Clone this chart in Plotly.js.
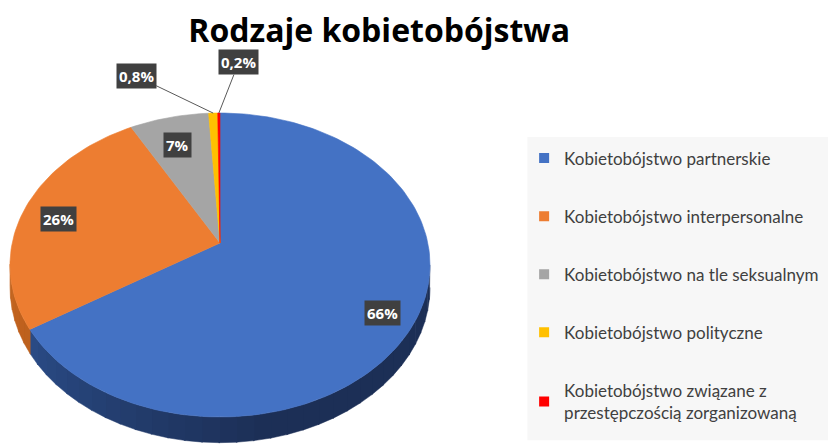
<!DOCTYPE html>
<html>
<head>
<meta charset="utf-8">
<script src="https://cdn.plot.ly/plotly-3.0.1.min.js"></script>
<style>html,body{margin:0;padding:0;background:#fff;}#chart{width:828px;height:446px;}</style>
</head>
<body>
<div id="chart"></div>
<script>
// ---- data ----
const titleText = 'Rodzaje kobietobójstwa';
const categories = [
  'Kobietobójstwo partnerskie',
  'Kobietobójstwo interpersonalne',
  'Kobietobójstwo na tle seksualnym',
  'Kobietobójstwo polityczne',
  'Kobietobójstwo związane z<br>przestępczością zorganizowaną'
];
const values = [66, 26, 7, 0.8, 0.2];
const colors = ['#4472C4', '#ED7D31', '#A5A5A5', '#FFC000', '#FF0000'];

// ---- 3D pie projection (style) ----
const X0 = 220, Y0 = 243, A = 207.8, B = 148.8, K = 0.1447, DEPTH = 22;
function proj(phiDeg, depth) {
  const p = phiDeg * Math.PI / 180;
  const u = Math.sin(p), v = Math.cos(p);
  const f = 1 / (1 + K * v);
  return [X0 + A * u * f, Y0 - B * v * f + depth * f];
}
function arcPts(a, b, depth) {
  const n = Math.max(2, Math.ceil(Math.abs(b - a) / 1.5));
  const xs = [], ys = [];
  for (let i = 0; i <= n; i++) {
    const p = proj(a + (b - a) * i / n, depth);
    xs.push(p[0]); ys.push(p[1]);
  }
  return [xs, ys];
}

const total = values.reduce((s, v) => s + v, 0);
const starts = [], ends = [];
let acc = 0;
values.forEach(v => { starts.push(acc / total * 360); acc += v; ends.push(acc / total * 360); });

const traces = [];
// side wall (visible front part)
const visA = Math.acos(-K) * 180 / Math.PI, visB = 360 - visA;
function hex(c){return [parseInt(c.slice(1,3),16),parseInt(c.slice(3,5),16),parseInt(c.slice(5,7),16)];}
function mix(c1,c2,t){const a=hex(c1),b=hex(c2);return 'rgb('+a.map((x,i)=>Math.round(x+(b[i]-x)*t)).join(',')+')';}
const wallDark = ['#1c2f56', '#a9531a', '#6e6e6e', '#b08400', '#b00000'];
const wallLight = ['#2f5597', '#c4651f', '#8a8a8a', '#c99700', '#c80000'];
const segN = 40;
for (let s = 0; s < segN; s++) {
  const a = visA + (visB - visA) * s / segN, b = visA + (visB - visA) * (s + 1) / segN + 0.3;
  const mid = (a + b) / 2;
  let idx = 0;
  for (let i = 0; i < values.length; i++) if (mid >= starts[i] && mid < ends[i]) idx = i;
  const t = Math.min(1, Math.max(0, (mid - 170) / (visB - 170)));
  const col = mid > 170 ? mix(wallDark[idx], wallLight[idx], t) : wallDark[idx];
  const top = arcPts(a, b, 0), bot = arcPts(b, a, DEPTH);
  traces.push({
    type: 'scatter', mode: 'lines', fill: 'toself', fillcolor: col,
    line: {width: 0.5, color: col},
    x: top[0].concat(bot[0]), y: top[1].concat(bot[1]),
    showlegend: false, hoverinfo: 'skip'
  });
}
// top surface slices
values.forEach((v, i) => {
  const arc = arcPts(starts[i], ends[i], 0);
  traces.push({
    type: 'scatter', mode: 'lines', fill: 'toself', fillcolor: colors[i],
    line: {width: 0.6, color: colors[i]},
    x: [X0].concat(arc[0]).concat([X0]), y: [Y0].concat(arc[1]).concat([Y0]),
    name: categories[i], showlegend: false, hoverinfo: 'name'
  });
});
// legend entries
categories.forEach((c, i) => {
  traces.push({
    type: 'scatter', mode: 'markers', x: [null], y: [null],
    marker: {symbol: 'square', size: 10, color: colors[i]},
    name: c, legendgroup: 'g' + i, showlegend: true
  });
});

// labels
const annotations = [];
function fmt(v){return String(v).replace('.', ',') + '%';}
const labelFont = {family: 'Open Sans, sans-serif', size: 15, color: '#ffffff', weight: 'bold'};
values.forEach((v, i) => {
  const mid = (starts[i] + ends[i]) / 2;
  const p = proj(mid, 0);
  if (v >= 5) {
    const x = X0 + (p[0] - X0) * 0.83, y = Y0 + (p[1] - Y0) * 0.83;
    annotations.push({x: x, y: y, xref: 'x', yref: 'y', text: fmt(v), showarrow: false,
      yshift: -6, bgcolor: '#404040', font: labelFont, borderpad: 2});
  } else {
    const off = i === 3 ? [-77, -37] : [20, -51];
    annotations.push({x: p[0], y: p[1], xref: 'x', yref: 'y', text: fmt(v), showarrow: true,
      arrowhead: 0, arrowwidth: 1, arrowcolor: '#595959', ax: off[0], ay: off[1],
      bgcolor: '#404040', font: labelFont, borderpad: 2});
  }
});

const layout = {
  width: 828, height: 446,
  margin: {l: 0, r: 0, t: 0, b: 0},
  paper_bgcolor: '#ffffff', plot_bgcolor: 'rgba(0,0,0,0)',
  title: {text: titleText, x: 0.458, xanchor: 'center', y: 0.93, yanchor: 'middle', yref: 'container',
    font: {family: 'Open Sans, sans-serif', size: 32, color: '#000000', weight: 'bold'}},
  xaxis: {range: [0, 828], visible: false, fixedrange: true},
  yaxis: {range: [446, 0], visible: false, fixedrange: true},
  showlegend: true,
  legend: {x: 0.633, y: 0.685, xanchor: 'left', yanchor: 'top', bgcolor: 'rgba(0,0,0,0)',
    font: {family: 'Lato, sans-serif', size: 17, color: '#404040'},
    tracegroupgap: 33, itemwidth: 30, traceorder: 'grouped'},
  shapes: [{type: 'rect', xref: 'paper', yref: 'paper', x0: 0.637, x1: 1, y0: 0.013, y1: 0.693,
    fillcolor: '#f7f7f7', line: {width: 0}, layer: 'below'}],
  annotations: annotations
};
Plotly.newPlot('chart', traces, layout, {displayModeBar: false, staticPlot: true});
</script>
</body>
</html>
